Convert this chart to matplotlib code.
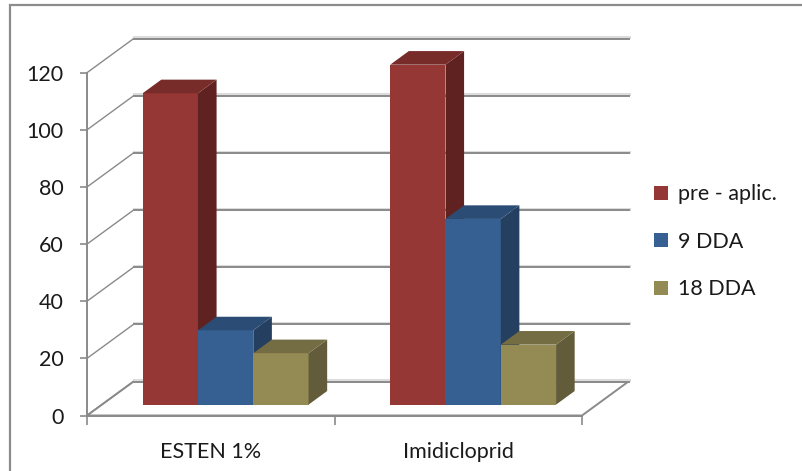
import matplotlib
matplotlib.use("Agg")
import matplotlib.pyplot as plt
from matplotlib.patches import Polygon, Rectangle, Patch
from matplotlib.lines import Line2D

plt.rcParams['font.family'] = ['Lato', 'DejaVu Sans']

categories = ['ESTEN 1%', 'Imidicloprid']
series_names = ['pre - aplic.', '9 DDA', '18 DDA']
pre_aplic = [109, 119]
dda_9 = [26, 65]
dda_18 = [18, 21]
y_ticks = [0, 20, 40, 60, 80, 100, 120]

series_values = [pre_aplic, dda_9, dda_18]
front_colors = ['#953735', '#376092', '#948A54']
side_colors = ['#602220', '#243F60', '#625C3A']
top_colors = ['#772C2A', '#2B4C74', '#746C42']

W, H = 802, 471
fig = plt.figure(figsize=(W / 100, H / 100), dpi=100)

# front plane of the plot box, in pixels
x0_px, x1_px = 87, 582
y0_px, y1_px = 415.5, 72.7
ax = fig.add_axes([x0_px / W, 1 - y0_px / H, (x1_px - x0_px) / W, (y0_px - y1_px) / H])
ax.set_xlim(0, 2)
ax.set_ylim(0, 120)
ax.patch.set_alpha(0)

# depth of the box expressed in data units
wall_dx_px, wall_dy_px = 46.5, 34.0
DX = wall_dx_px * 2 / (x1_px - x0_px)
DY = wall_dy_px * 120 / (y0_px - y1_px)

grid_col = '#8a8a8a'
shadow_col = '#dcdcdc'

# floor
floor = Polygon([(0, 0), (2, 0), (2 + DX, DY), (DX, DY)], closed=True,
                facecolor='white', edgecolor=grid_col, lw=1.4, zorder=1, clip_on=False)
ax.add_patch(floor)

# back wall gridlines and left wall diagonals
for v in y_ticks:
    ax.add_line(Line2D([DX, 2 + DX], [v + DY + 0.5, v + DY + 0.5], color=shadow_col, lw=2.2,
                       zorder=1.5, clip_on=False))
    ax.add_line(Line2D([DX, 2 + DX], [v + DY, v + DY], color=grid_col, lw=1.4,
                       zorder=2, clip_on=False))
    ax.add_line(Line2D([0, DX], [v, v + DY], color=grid_col, lw=1.0,
                       zorder=2, clip_on=False))

# bars
bar_front = 0.32
bar_depth = 0.40
bw = 0.2234
n = len(series_values)
for ci in range(len(categories)):
    center = ci + 0.5
    for si in range(n):
        v = series_values[si][ci]
        xl = center - n * bw / 2 + si * bw + bar_front * DX
        xr = xl + bw
        yb = bar_front * DY
        yt = yb + v
        ddx, ddy = bar_depth * DX, bar_depth * DY
        z = 5 + si
        ax.add_patch(Polygon([(xl, yb), (xr, yb), (xr, yt), (xl, yt)],
                             facecolor=front_colors[si], edgecolor='none', zorder=z, clip_on=False))
        ax.add_patch(Polygon([(xr, yb), (xr + ddx, yb + ddy), (xr + ddx, yt + ddy), (xr, yt)],
                             facecolor=side_colors[si], edgecolor='none', zorder=z, clip_on=False))
        ax.add_patch(Polygon([(xl, yt), (xr, yt), (xr + ddx, yt + ddy), (xl + ddx, yt + ddy)],
                             facecolor=top_colors[si], edgecolor='none', zorder=z, clip_on=False))

# axes
for s in ['top', 'right']:
    ax.spines[s].set_visible(False)
for s in ['left', 'bottom']:
    ax.spines[s].set_color(grid_col)
    ax.spines[s].set_linewidth(1.4)
    ax.spines[s].set_zorder(3)

ax.set_yticks(y_ticks)
ax.set_yticklabels([str(t) for t in y_ticks])
ax.tick_params(axis='y', length=5, width=1.2, color=grid_col, pad=12, labelsize=15.5,
               labelcolor='#1a1a1a')
ax.set_xticks([0, 1, 2])
ax.set_xticklabels(['', '', ''])
ax.tick_params(axis='x', which='major', length=6.5, width=1.2, color=grid_col)
ax.set_xticks([0.5, 1.5], minor=True)
ax.set_xticklabels(categories, minor=True)
ax.tick_params(axis='x', which='minor', length=0, pad=19, labelsize=15.5, labelcolor='#1a1a1a')

# legend
handles = [Patch(facecolor=c, edgecolor='none') for c in front_colors]
fig.legend(handles, series_names, loc='upper left',
           bbox_to_anchor=(650 / W, 1 - 180 / H), frameon=False, fontsize=15.5,
           handlelength=0.65, handleheight=0.65, handletextpad=0.45, labelspacing=1.28,
           borderaxespad=0, borderpad=0.2, labelcolor='#1a1a1a')

# chart area border
fig.patches.append(Rectangle((10 / W, -0.1), 1.2, 1 - 5 / H + 0.1, transform=fig.transFigure,
                             facecolor='none', edgecolor='#8c8c8c', lw=1.6))

fig.savefig('out.png', dpi=100)
